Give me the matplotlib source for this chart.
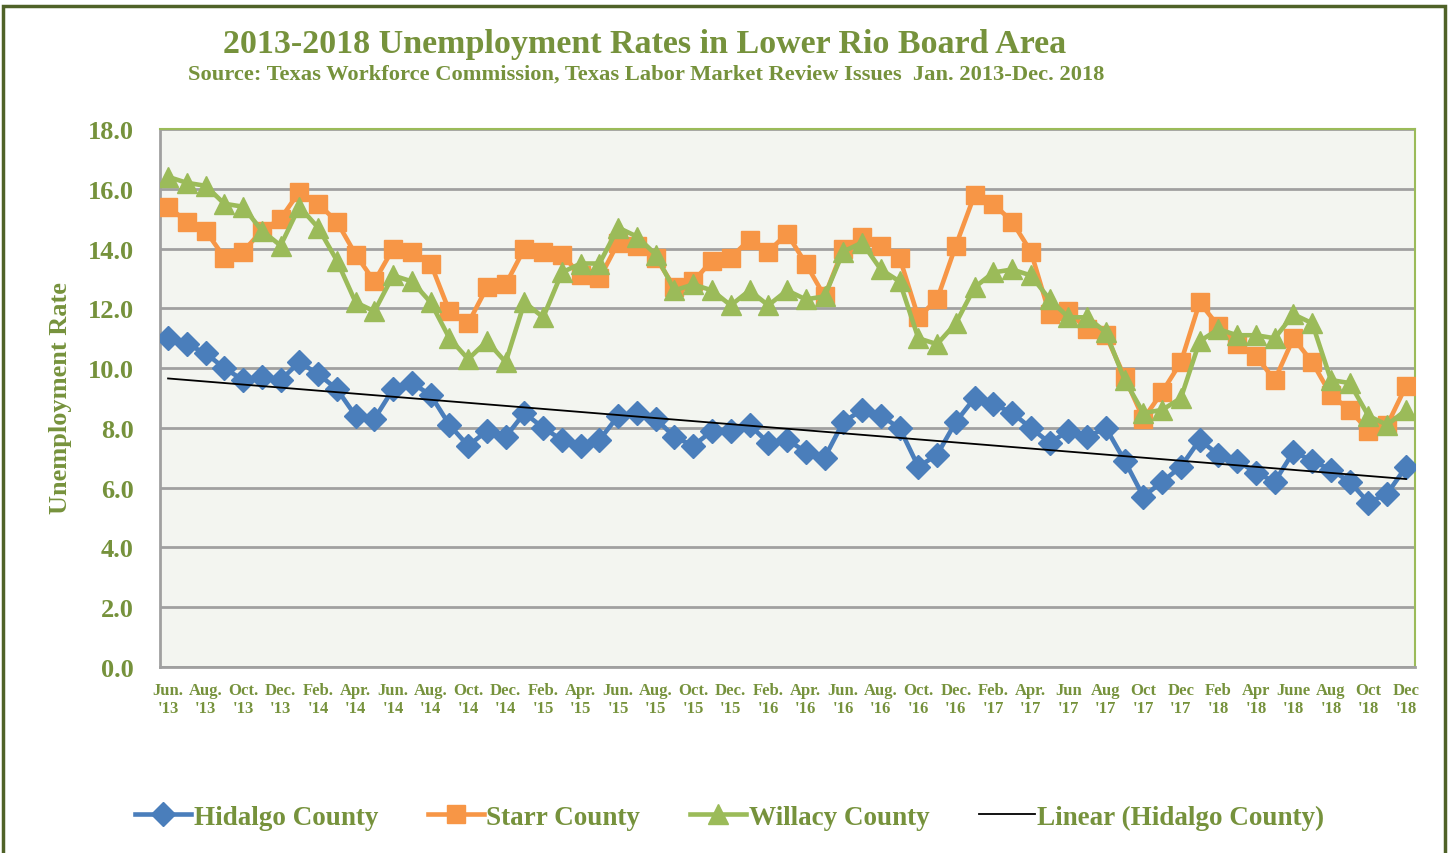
import numpy as np
import matplotlib
matplotlib.use("Agg")
from matplotlib import pyplot as plt
from matplotlib.patches import Rectangle

# month labels every second month, Jun 2013 - Dec 2018
tick_labels = ["Jun.\n'13", "Aug.\n'13", "Oct.\n'13", "Dec.\n'13",
               "Feb.\n'14", "Apr.\n'14", "Jun.\n'14", "Aug.\n'14", "Oct.\n'14", "Dec.\n'14",
               "Feb.\n'15", "Apr.\n'15", "Jun.\n'15", "Aug.\n'15", "Oct.\n'15", "Dec.\n'15",
               "Feb.\n'16", "Apr.\n'16", "Jun.\n'16", "Aug.\n'16", "Oct.\n'16", "Dec.\n'16",
               "Feb.\n'17", "Apr.\n'17", "Jun\n'17", "Aug\n'17", "Oct\n'17", "Dec\n'17",
               "Feb\n'18", "Apr\n'18", "June\n'18", "Aug\n'18", "Oct\n'18", "Dec\n'18"]

hidalgo = [11.0, 10.8, 10.5, 10.0, 9.6, 9.7, 9.6,
           10.2, 9.8, 9.3, 8.4, 8.3, 9.3, 9.5, 9.1, 8.1, 7.4, 7.9, 7.7,
           8.5, 8.0, 7.6, 7.4, 7.6, 8.4, 8.5, 8.3, 7.7, 7.4, 7.9, 7.9,
           8.1, 7.5, 7.6, 7.2, 7.0, 8.2, 8.6, 8.4, 8.0, 6.7, 7.1, 8.2,
           9.0, 8.8, 8.5, 8.0, 7.5, 7.9, 7.7, 8.0, 6.9, 5.7, 6.2, 6.7,
           7.6, 7.1, 6.9, 6.5, 6.2, 7.2, 6.9, 6.6, 6.2, 5.5, 5.8, 6.7]

starr = [15.4, 14.9, 14.6, 13.7, 13.9, 14.6, 15.0,
         15.9, 15.5, 14.9, 13.8, 12.9, 14.0, 13.9, 13.5, 11.9, 11.5, 12.7, 12.8,
         14.0, 13.9, 13.8, 13.1, 13.0, 14.2, 14.1, 13.7, 12.7, 12.9, 13.6, 13.7,
         14.3, 13.9, 14.5, 13.5, 12.4, 14.0, 14.4, 14.1, 13.7, 11.7, 12.3, 14.1,
         15.8, 15.5, 14.9, 13.9, 11.8, 11.9, 11.3, 11.1, 9.7, 8.3, 9.2, 10.2,
         12.2, 11.4, 10.8, 10.4, 9.6, 11.0, 10.2, 9.1, 8.6, 7.9, 8.1, 9.4]

willacy = [16.4, 16.2, 16.1, 15.5, 15.4, 14.6, 14.1,
           15.4, 14.7, 13.6, 12.2, 11.9, 13.1, 12.9, 12.2, 11.0, 10.3, 10.9, 10.2,
           12.2, 11.7, 13.2, 13.5, 13.5, 14.7, 14.4, 13.8, 12.6, 12.8, 12.6, 12.1,
           12.6, 12.1, 12.6, 12.3, 12.4, 13.9, 14.2, 13.3, 12.9, 11.0, 10.8, 11.5,
           12.7, 13.2, 13.3, 13.1, 12.3, 11.7, 11.7, 11.2, 9.6, 8.5, 8.6, 9.0,
           10.9, 11.3, 11.1, 11.1, 11.0, 11.8, 11.5, 9.6, 9.5, 8.4, 8.1, 8.6]

txt = "#76923c"
font = "Liberation Serif"
plt.rcParams["font.family"] = font
plt.rcParams["font.weight"] = "bold"

x = np.arange(len(hidalgo))

fig = plt.figure(figsize=(14.5, 8.54), dpi=100)
ax = fig.add_axes([160/1450, 1-668/854, 1255/1450, 538/854])
ax.set_facecolor("#f3f5f0")

ax.plot(x, hidalgo, '-D', color="#4a7ebb", lw=3.3, ms=12.5, label="Hidalgo County", zorder=3)
ax.plot(x, starr, '-s', color="#f79646", lw=3.3, ms=13, label="Starr County", zorder=4)
ax.plot(x, willacy, '-^', color="#9bbb59", lw=3.3, ms=14, label="Willacy County", zorder=5)
# linear trend of Hidalgo
k, b = np.polyfit(x, hidalgo, 1)
ax.plot(x, k*x + b, '-', color="black", lw=1.3, label="Linear (Hidalgo County)", zorder=6)

ax.set_xlim(-0.43, 66.48)
ax.set_ylim(0, 18)
ax.set_yticks(np.arange(0, 18.1, 2))
ax.set_yticklabels(["%.1f" % v for v in np.arange(0, 18.1, 2)], fontsize=19, color=txt)
ax.set_xticks(x[::2])
ax.set_xticklabels(tick_labels, fontsize=12, color=txt, linespacing=1.15)
ax.tick_params(axis="y", length=0, pad=19)
ax.tick_params(axis="x", length=0, pad=11)
ax.grid(axis="y", color="#a0a0a0", lw=2)
ax.set_axisbelow(True)
for s in ["left", "bottom"]:
    ax.spines[s].set_color("#a0a0a0")
    ax.spines[s].set_linewidth(2)
for s in ["top", "right"]:
    ax.spines[s].set_color("#9bbb59")
    ax.spines[s].set_linewidth(1.5)

fig.text(60/1450, 1-398/854, "Unemployment Rate", rotation=90, ha="center", va="center",
         fontsize=19, color=txt)
fig.text(645/1450, 1-44/854, "2013-2018 Unemployment Rates in Lower Rio Board Area",
         ha="center", va="center", fontsize=24.5, color=txt)
fig.text(646/1450, 1-75/854,
         "Source: Texas Workforce Commission, Texas Labor Market Review Issues  Jan. 2013-Dec. 2018",
         ha="center", va="center", fontsize=16.2, color=txt)

leg = fig.legend(loc="center", bbox_to_anchor=(730/1450, 1-818/854), ncol=4, frameon=False,
                 fontsize=19.5, handlelength=2.05, columnspacing=1.85, handletextpad=0.1)
for t in leg.get_texts():
    t.set_color(txt)

fig.patches.append(Rectangle((3/1450, -0.02), 1442/1450, 1.02-7/854, transform=fig.transFigure,
                             fill=False, edgecolor="#4f6228", lw=2.5))

plt.savefig("out.png", dpi=100)
